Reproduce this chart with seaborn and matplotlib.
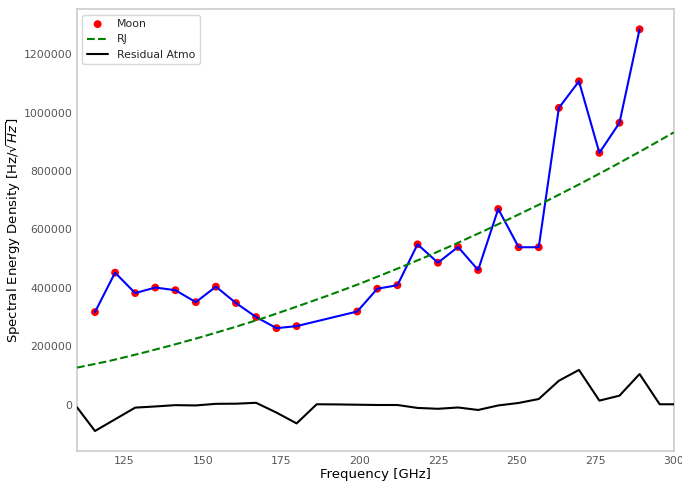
import matplotlib
matplotlib.use("Agg")
import matplotlib.pyplot as plt
import seaborn as sns
import pandas as pd

# ---- data ----
moon_freq = [115.7, 122.1, 128.5, 134.9, 141.3, 147.8, 154.2, 160.6, 167.0, 173.5, 179.9,
             199.2, 205.6, 212.0, 218.4, 224.9, 231.3, 237.7, 244.1, 250.6, 257.0,
             263.4, 269.8, 276.3, 282.7, 289.1]
moon_sed = [317000, 452000, 382000, 401000, 392000, 351000, 404000, 348000, 300000, 262000, 269000,
            319000, 397000, 409000, 549000, 486000, 540000, 461000, 670000, 539000, 539000,
            1016000, 1107000, 862000, 965000, 1285000]

rj_freq = [110, 120, 130, 140, 150, 160, 170, 180, 190, 200,
           210, 220, 230, 240, 250, 260, 270, 280, 290, 300]
rj_sed = [127000, 149000, 175000, 203000, 233000, 265000, 299000, 336000, 374000, 414000,
          457000, 501000, 548000, 597000, 648000, 700000, 755000, 812000, 871000, 932000]

res_freq = [110, 115.7, 122.1, 128.5, 134.9, 141.3, 147.8, 154.2, 160.6, 167.0, 173.5,
            179.9, 186.3, 192.7, 199.2, 205.6, 212.0, 218.4, 224.9, 231.3, 237.7,
            244.1, 250.6, 257.0, 263.4, 269.8, 276.3, 282.7, 289.1, 295.5, 300]
res_sed = [-9000, -90000, -50000, -10000, -6000, -1500, -2500, 3000, 3500, 6500, -27000,
           -64000, 1500, 1000, 0, -1000, -1000, -11000, -14000, -9500, -18000,
           -2500, 6000, 19500, 82000, 119000, 14000, 31000, 105000, 1500, 1500]

moon_df = pd.DataFrame({"freq": moon_freq, "sed": moon_sed})
rj_df = pd.DataFrame({"freq": rj_freq, "sed": rj_sed})
res_df = pd.DataFrame({"freq": res_freq, "sed": res_sed})

sns.set_style("white")
plt.rcParams["font.family"] = ["DejaVu Sans"]

fig = plt.figure(figsize=(6.82, 4.84), dpi=100)
ax = fig.add_axes([0.113, 0.068, 0.875, 0.913])

sns.scatterplot(data=moon_df, x="freq", y="sed", ax=ax, color="red", s=32,
                edgecolor="none", linewidth=0, label="Moon", zorder=2)
sns.lineplot(data=moon_df, x="freq", y="sed", ax=ax, color="blue", lw=1.5,
             sort=False, zorder=3)
sns.lineplot(data=rj_df, x="freq", y="sed", ax=ax, color="green", lw=1.5,
             linestyle="--", label="RJ", zorder=3)
sns.lineplot(data=res_df, x="freq", y="sed", ax=ax, color="black", lw=1.5,
             label="Residual Atmo", zorder=3)

ax.set_xlim(110, 300)
ax.ticklabel_format(axis="y", style="plain", useOffset=False)
ax.set_xlabel("Frequency [GHz]", fontsize=9.5, color="black", labelpad=1.5)
ax.set_ylabel(r"Spectral Energy Density [Hz/$\sqrt{Hz}$]", fontsize=9.5, color="black",
              labelpad=0)
ax.tick_params(axis="both", labelsize=7.8, labelcolor="#555555", length=0)
for sp in ax.spines.values():
    sp.set_color("#cccccc")
    sp.set_linewidth(1.2)

h, l = ax.get_legend_handles_labels()
ax.legend(h, l, loc="upper left", fontsize=7.8, frameon=True)

fig.savefig("out.png", dpi=100)
